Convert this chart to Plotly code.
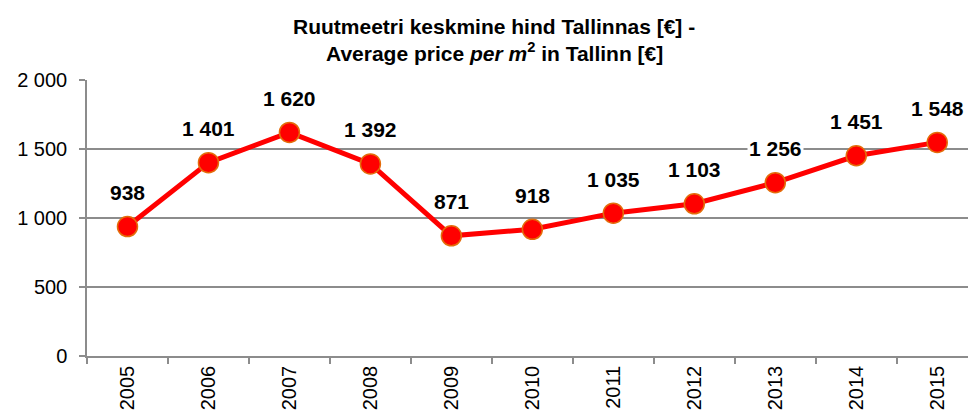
import plotly.graph_objects as go

years = ["2005", "2006", "2007", "2008", "2009", "2010", "2011", "2012", "2013", "2014", "2015"]
prices = [938, 1401, 1620, 1392, 871, 918, 1035, 1103, 1256, 1451, 1548]
price_labels = ["938", "1 401", "1 620", "1 392", "871", "918", "1 035", "1 103", "1 256", "1 451", "1 548"]
y_ticks = [0, 500, 1000, 1500, 2000]
y_tick_labels = ["0", "500", "1 000", "1 500", "2 000"]
title_lines = ["<b>Ruutmeetri keskmine hind Tallinnas [€] -</b>",
               "<b>Average price <i>per m</i><sup>2</sup> in Tallinn [€]</b>"]

FONT = "Liberation Sans, Arial, sans-serif"
GRID = "#8c8c8c"

idx = list(range(len(years)))
boundaries = [i - 0.5 for i in idx] + [len(years) - 0.5]

fig = go.Figure()
fig.add_trace(go.Scatter(
    x=idx, y=prices, mode="lines+markers",
    line=dict(color="#ff0000", width=5),
    marker=dict(size=20, color="#ff0000", line=dict(color="#e46c0a", width=1.5)),
    hoverinfo="skip", showlegend=False,
))

for i, v, lab in zip(idx, prices, price_labels):
    fig.add_annotation(
        x=i, y=v, text="<b>" + lab + "</b>", showarrow=False, yshift=34,
        font=dict(family=FONT, size=21, color="#000000"),
        bgcolor="#ffffff", borderpad=1,
    )

for yy, line in zip([1.195, 1.1], title_lines):
    fig.add_annotation(
        xref="paper", yref="paper", x=0.462, y=yy, text=line, showarrow=False,
        xanchor="center", yanchor="middle",
        font=dict(family=FONT, size=21, color="#000000"),
    )

fig.update_layout(
    width=968, height=418,
    margin=dict(l=87, r=0, t=80, b=62, autoexpand=False),
    paper_bgcolor="#ffffff", plot_bgcolor="#ffffff",
    font=dict(family=FONT, color="#000000"),
    xaxis=dict(
        range=[-0.5, 10.38], tickmode="array", tickvals=idx, ticktext=years,
        tickangle=-90, ticks="", ticklen=6,
        minor=dict(tickmode="array", tickvals=boundaries, ticks="outside",
                   ticklen=6, tickcolor=GRID, tickwidth=1.5, showgrid=False),
        showline=True, linecolor=GRID, linewidth=1.5,
        showgrid=False, zeroline=False, automargin=False,
        tickfont=dict(family=FONT, size=20, color="#000000"),
        fixedrange=True,
    ),
    yaxis=dict(
        range=[0, 2000], tickmode="array", tickvals=y_ticks, ticktext=y_tick_labels,
        ticks="outside", ticklen=6, tickcolor=GRID, tickwidth=1.5,
        showline=True, linecolor=GRID, linewidth=1.5,
        showgrid=True, gridcolor=GRID, gridwidth=1.5, zeroline=False, automargin=False,
        tickfont=dict(family=FONT, size=20, color="#000000"),
        ticklabelstandoff=8,
        fixedrange=True,
    ),
)

fig.write_html(
    "out.html",
    config={"displayModeBar": False},
    post_script="document.body.style.margin='0';document.body.style.overflow='hidden';",
)
